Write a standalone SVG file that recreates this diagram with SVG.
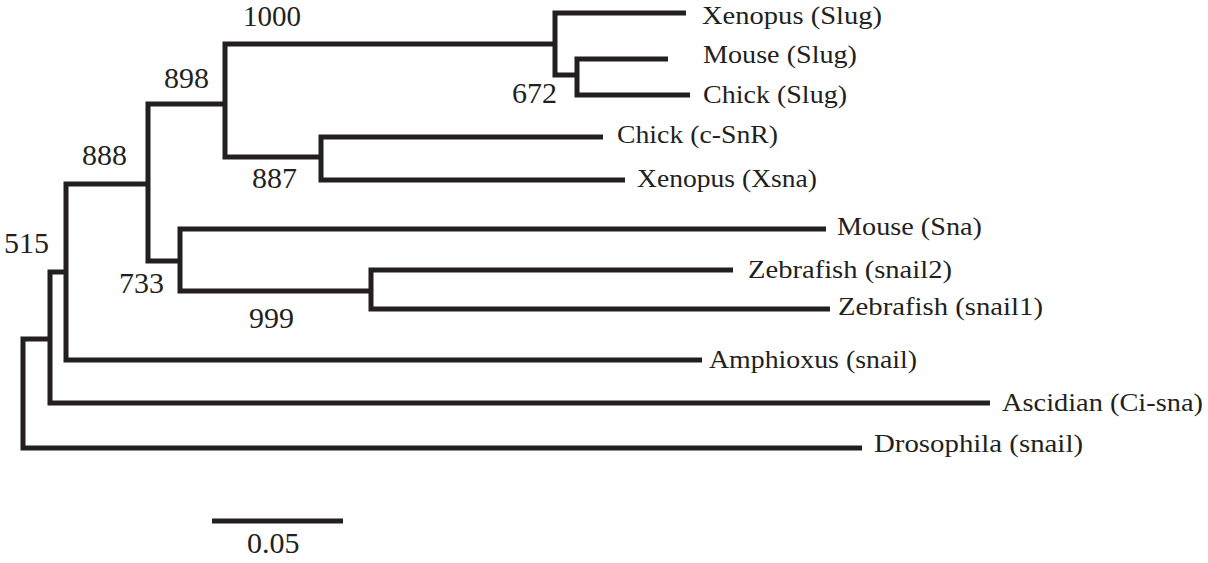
<svg xmlns="http://www.w3.org/2000/svg" width="1208" height="563" viewBox="0 0 1208 563">
<style>
.br{fill:none;stroke:#231f20;stroke-width:5;stroke-linejoin:miter;stroke-linecap:butt}
.tx{font-family:"Liberation Serif","Times New Roman",serif;font-size:26px;fill:#231f20}
.bs{font-family:"Liberation Serif","Times New Roman",serif;font-size:30px;fill:#231f20}
</style>
<rect width="1208" height="563" fill="#fff"/>
<g id="connectors">
<path class="br" d="M862,448 H23 V339 H50"/>
<path class="br" d="M990,403 H50 V272 H66"/>
<path class="br" d="M702,360 H66 V184 H148"/>
<path class="br" d="M225,104 H148 V261 H180"/>
<path class="br" d="M555,44 H225 V157 H321"/>
<path class="br" d="M686,13 H555 V75 H577"/>
<path class="br" d="M668,59 H577 V95 H690"/>
<path class="br" d="M603,137 H321 V180 H625"/>
<path class="br" d="M826,229 H180 V291 H371"/>
<path class="br" d="M733,270 H371 V309 H830"/>
<path class="br" d="M212,521 H343"/>
</g>
<g id="leaf-xenopus-slug"><text class="tx" x="702" y="24" textLength="180" lengthAdjust="spacingAndGlyphs">Xenopus (Slug)</text></g>
<g id="leaf-mouse-slug"><text class="tx" x="703" y="63" textLength="154" lengthAdjust="spacingAndGlyphs">Mouse (Slug)</text></g>
<g id="leaf-chick-slug"><text class="tx" x="703" y="103" textLength="144" lengthAdjust="spacingAndGlyphs">Chick (Slug)</text></g>
<g id="leaf-chick-csnr"><text class="tx" x="617" y="143" textLength="161" lengthAdjust="spacingAndGlyphs">Chick (c-SnR)</text></g>
<g id="leaf-xenopus-xsna"><text class="tx" x="637" y="187" textLength="180" lengthAdjust="spacingAndGlyphs">Xenopus (Xsna)</text></g>
<g id="leaf-mouse-sna"><text class="tx" x="837" y="235" textLength="145" lengthAdjust="spacingAndGlyphs">Mouse (Sna)</text></g>
<g id="leaf-zebrafish-snail2"><text class="tx" x="748" y="278" textLength="204" lengthAdjust="spacingAndGlyphs">Zebrafish (snail2)</text></g>
<g id="leaf-zebrafish-snail1"><text class="tx" x="838" y="315" textLength="205" lengthAdjust="spacingAndGlyphs">Zebrafish (snail1)</text></g>
<g id="leaf-amphioxus"><text class="tx" x="709" y="368" textLength="208" lengthAdjust="spacingAndGlyphs">Amphioxus (snail)</text></g>
<g id="leaf-ascidian"><text class="tx" x="1002" y="411" textLength="201" lengthAdjust="spacingAndGlyphs">Ascidian (Ci-sna)</text></g>
<g id="leaf-drosophila"><text class="tx" x="874" y="452" textLength="209" lengthAdjust="spacingAndGlyphs">Drosophila (snail)</text></g>
<g id="bs-1000"><text class="bs" x="243" y="26" style="font-size:29px">1000</text></g>
<g id="bs-898"><text class="bs" x="164" y="88">898</text></g>
<g id="bs-888"><text class="bs" x="82" y="165">888</text></g>
<g id="bs-887"><text class="bs" x="252" y="188">887</text></g>
<g id="bs-672"><text class="bs" x="512" y="103">672</text></g>
<g id="bs-515"><text class="bs" x="4" y="253">515</text></g>
<g id="bs-733"><text class="bs" x="119" y="293">733</text></g>
<g id="bs-999"><text class="bs" x="249" y="328">999</text></g>
<g id="scale"><text class="bs" x="247" y="553">0.05</text></g>
</svg>
